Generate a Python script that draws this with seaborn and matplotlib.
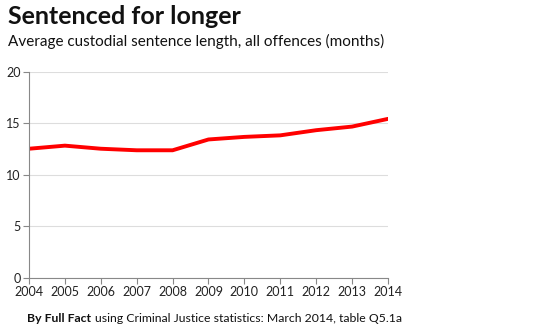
import matplotlib
matplotlib.use("Agg")
import matplotlib.pyplot as plt
import seaborn as sns
import pandas as pd

years = [2004, 2005, 2006, 2007, 2008, 2009, 2010, 2011, 2012, 2013, 2014]
months = [12.55, 12.85, 12.55, 12.4, 12.4, 13.45, 13.7, 13.85, 14.35, 14.7, 15.45]
y_ticks = [0, 5, 10, 15, 20]

title = "Sentenced for longer"
subtitle = "Average custodial sentence length, all offences (months)"

sns.set_theme(style="white")
plt.rcParams['font.family'] = ['Lato', 'DejaVu Sans']

df = pd.DataFrame({"year": years, "months": months})

fig = plt.figure(figsize=(5.5, 3.36), dpi=100)
ax = fig.add_axes([29/550, 1 - 278/336, (388 - 29)/550, (278 - 72)/336])

sns.lineplot(data=df, x="year", y="months", ax=ax, color="#ff0000", linewidth=2.8)

ax.set_xlim(2004, 2014)
ax.set_ylim(0, 20)
ax.set_xticks(years)
ax.set_xticklabels([str(y) for y in years], fontsize=9, color="#222222")
ax.set_yticks(y_ticks)
ax.set_yticklabels([str(v) for v in y_ticks], fontsize=9, color="#222222")
ax.grid(axis="y", color="#dddddd", linewidth=0.8)
ax.grid(axis="x", visible=False)
ax.set_axisbelow(True)
ax.set_xlabel("")
ax.set_ylabel("")
for s in ["top", "right"]:
    ax.spines[s].set_visible(False)
for s in ["left", "bottom"]:
    ax.spines[s].set_color("#888888")
    ax.spines[s].set_linewidth(0.8)
ax.tick_params(axis="both", which="both", length=4, width=0.8, color="#888888",
               direction="out", pad=2, left=True, bottom=True)

fig.text(8/550, 1 - 17/336, title, fontsize=18, fontweight="bold", va="center", ha="left", color="#111111")
fig.text(8/550, 1 - 41/336, subtitle, fontsize=11, va="center", ha="left", color="#111111")

t1 = fig.text(27/550, 1 - 319/336, "By Full Fact", fontsize=8.8, fontweight="bold", va="center", ha="left", color="#111111")
fig.canvas.draw()
bb = t1.get_window_extent(renderer=fig.canvas.get_renderer())
fig.text((bb.x1 + 4)/550, 1 - 319/336, "using Criminal Justice statistics: March 2014, table Q5.1a",
         fontsize=8.8, va="center", ha="left", color="#111111")

fig.savefig("out.png", dpi=100)
